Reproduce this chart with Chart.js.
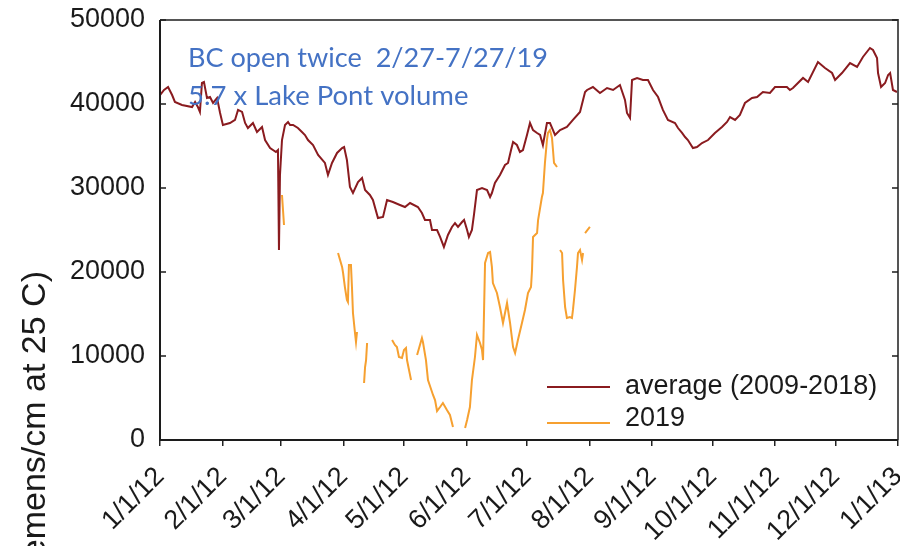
<!DOCTYPE html>
<html>
<head>
<meta charset="utf-8">
<script src="https://cdn.jsdelivr.net/npm/chart.js@4.4.1/dist/chart.umd.min.js"></script>
<style>
  html, body { margin: 0; padding: 0; background: #ffffff; }
  canvas { display: block; }
</style>
</head>
<body>
<canvas id="chart" width="900" height="546"></canvas>
<script>
// Day of year on a 2012 calendar (0 = Jan 1) and conductivity, 2009-2018 average
const avgDay = [0,2,4,6,7.4,10.9,15.9,17.4,18.8,19.8,20.8,21.8,23.3,24.8,26.3,28.3,29.8,31.2,34.7,37.2,38.7,40.7,42.2,43.6,46.1,48.1,50.6,52.1,54.6,57.5,58.5,59.0,59.5,60.5,62.0,63.5,64.5,66.0,68.4,70.4,71.9,73.4,75.9,78.4,81.8,83.3,85.3,87.8,90.3,91.3,92.7,94.2,95.7,98.2,100.2,101.7,104.1,105.6,108.1,110.6,112.6,115.5,119.0,121.5,124.0,127.9,129.9,131.4,133.9,134.9,137.4,138.9,140.8,142.8,144.8,146.3,147.8,149.8,150.8,152.3,153.2,154.7,155.7,157.2,159.7,162.2,163.7,164.6,166.1,168.6,171.1,172.6,174.1,175.1,177.0,178.5,180.0,182.0,183.5,185.0,187.0,188.5,189.9,191.9,193.4,194.9,195.9,198.4,201.8,204.8,208.3,209.8,210.8,211.8,214.7,218.2,221.7,224.7,228.1,230.6,231.6,233.1,234.1,236.6,239.5,242.0,244.5,247.0,249.4,251.9,255.4,256.9,258.9,260.4,261.8,264.3,266.3,268.8,271.8,275.2,278.7,281.2,282.7,285.2,287.6,290.1,293.6,296.1,299.0,302.5,305.0,310.9,312.4,313.9,318.9,321.4,326.3,329.8,333.3,334.8,338.2,342.2,345.7,348.6,352.1,353.6,355.6,356.1,357.6,359.6,361.1,362.1,363.5,365.5];
const avgVal = [41070,41670,42020,41070,40240,39880,39640,40240,39640,39050,42500,42620,40710,40830,40120,40710,38930,37500,37740,38100,39290,39050,37740,37140,37740,36670,37260,35710,34760,34290,34520,22620,31550,35710,37500,37860,37500,37500,37140,36670,36310,35710,35120,33930,32980,31550,32980,34170,34760,34880,33330,30120,29400,30710,31190,29760,29170,28570,26430,26550,28570,28330,27980,27740,28210,27740,27020,26190,26190,25000,25000,24170,22980,24410,25360,25830,25360,25950,26190,25000,24170,25000,26790,29760,30000,29760,28930,29400,30600,31550,32740,32980,34520,35480,35120,34290,34520,36310,37740,36900,36550,36310,35120,37740,37740,36900,36310,36900,37260,38100,39050,40480,41430,41670,42020,41310,41900,41670,42260,40480,38930,38330,42860,43100,42860,42860,41670,40830,39290,38100,37740,37140,36550,36070,35710,34760,34880,35360,35710,36550,37260,37860,38450,38100,38690,40120,40710,40830,41430,41310,42020,42020,41670,41900,43100,42620,45000,44290,43690,42860,43690,44880,44410,45600,46670,46430,45480,43690,42020,42500,43450,43690,41670,41430];

// 2019 record on the same day-of-year axis; null marks gaps in the logger record
const y2019Day = [60.5,61.0,61.5,62,88.3,89.3,90.3,90.8,91.7,92.7,93.2,93.7,94.7,95.2,95.7,96.7,97.2,97.7,99,101.2,101.7,102.2,102.7,105,115.1,116.5,117.5,118.5,120.0,121.0,122.0,122.5,123.5,124.5,126,127.5,129.9,130.4,131.9,132.9,133.9,135.4,136.4,137.4,138.9,140.3,142.3,143.8,145.3,148,151.3,152.3,153.7,154.7,156.2,157.2,158.7,159.7,160.2,161.2,162.7,163.7,164.6,165.1,167.1,168.6,170.1,172.1,173.6,175.1,176.1,177.5,179.5,181.0,182.5,184.0,184.5,185.0,187.0,187.5,189.4,189.9,190.9,191.9,192.4,193.4,194.4,194.9,195.4,196.9,197.5,198.4,199.4,199.9,200.9,201.8,203.3,204.3,204.8,205.8,206.8,207.3,208.3,209.3,209.8,210.3,210.8,213.2];
const y2019Val = [29170,27380,25600,null,22260,21430,20600,19880,18210,16670,16430,20830,20830,18210,15120,12740,11670,12860,null,6790,8690,9520,11550,null,11900,11310,11070,9880,9760,10710,10950,9520,8330,7140,null,10120,12140,11670,9520,7140,6430,5360,4760,3450,3930,4400,3570,2980,1550,null,1430,2380,3930,7140,9880,12500,11550,10710,9520,21070,22260,22380,20600,18690,17500,15830,13930,16310,13930,11070,10360,11900,13930,15480,17500,18210,20240,24170,24640,26190,28930,29400,32980,35710,36550,36900,35950,34520,32980,32500,null,22620,22260,19050,15830,14520,14640,14520,15480,17860,20600,22260,22620,21430,22260,null,24640,25360];

// Axis ticks
const monthStartDays = [0,31,60,91,121,152,182,213,244,274,305,335,366];
const monthLabels = ['1/1/12','2/1/12','3/1/12','4/1/12','5/1/12','6/1/12','7/1/12','8/1/12','9/1/12','10/1/12','11/1/12','12/1/12','1/1/13'];
const yTickValues = [0,10000,20000,30000,40000,50000];

// Text
const seriesNames = ['average (2009-2018)', '2019'];
const noteLines = ['BC open twice  2/27-7/27/19', '5.7 x Lake Pont volume'];
const yTitle = 'Conductivity (microSiemens/cm at 25 C)';

const FONT = "'Liberation Sans', Arial, sans-serif";
const AVG_COLOR = '#8a1b1f';
const Y2019_COLOR = '#f6a030';

function toPoints(days, vals) {
  return days.map((d, i) => ({ x: d, y: vals[i] }));
}

// Frame, inward ticks, note, legend and rotated axis title
const decorations = {
  id: 'decorations',
  afterDraw(chart) {
    const { ctx, chartArea: a, scales: { y } } = chart;
    ctx.save();

    // top and right border
    ctx.strokeStyle = '#555555';
    ctx.lineWidth = 2;
    ctx.beginPath();
    ctx.moveTo(a.left, a.top);
    ctx.lineTo(a.right, a.top);
    ctx.lineTo(a.right, a.bottom);
    ctx.stroke();

    // left and bottom axis lines
    ctx.strokeStyle = '#1c1c1c';
    ctx.beginPath();
    ctx.moveTo(a.left, a.top);
    ctx.lineTo(a.left, a.bottom);
    ctx.lineTo(a.right, a.bottom);
    ctx.stroke();

    // inward y ticks on both sides
    ctx.lineWidth = 1.5;
    y.ticks.forEach(t => {
      const py = y.getPixelForValue(t.value);
      ctx.beginPath();
      ctx.moveTo(a.left, py); ctx.lineTo(a.left + 6, py);
      ctx.moveTo(a.right, py); ctx.lineTo(a.right - 6, py);
      ctx.stroke();
    });

    // note in the upper left
    ctx.fillStyle = '#4472c4';
    ctx.font = "27.5px Lato, 'Open Sans', sans-serif";
    ctx.textAlign = 'left';
    ctx.textBaseline = 'alphabetic';
    ctx.fillText(noteLines[0], a.left + 28, a.top + 47, 360);
    ctx.fillText(noteLines[1], a.left + 28, a.top + 85, 288);

    // legend in the lower right
    const ds = chart.data.datasets;
    const rows = [a.bottom - 53, a.bottom - 17];
    const textRows = [a.bottom - 53, a.bottom - 21];
    ctx.font = '27px ' + FONT;
    ctx.textBaseline = 'middle';
    ds.forEach((d, i) => {
      ctx.strokeStyle = d.borderColor;
      ctx.lineWidth = 2;
      ctx.beginPath();
      ctx.moveTo(a.right - 351, rows[i]);
      ctx.lineTo(a.right - 288, rows[i]);
      ctx.stroke();
      ctx.fillStyle = '#1a1a1a';
      ctx.fillText(d.label, a.right - 273, textRows[i]);
    });

    // rotated y-axis title
    ctx.translate(45, 271);
    ctx.rotate(-Math.PI / 2);
    ctx.textAlign = 'right';
    ctx.textBaseline = 'alphabetic';
    ctx.font = '34px ' + FONT;
    ctx.fillStyle = '#1a1a1a';
    ctx.fillText(yTitle, 0, 0);

    ctx.restore();
  }
};

new Chart(document.getElementById('chart'), {
  type: 'line',
  data: {
    datasets: [
      {
        label: seriesNames[0],
        data: toPoints(avgDay, avgVal),
        borderColor: AVG_COLOR,
        borderWidth: 2,
        pointRadius: 0,
        tension: 0,
        spanGaps: false
      },
      {
        label: seriesNames[1],
        data: toPoints(y2019Day, y2019Val),
        borderColor: Y2019_COLOR,
        borderWidth: 2,
        pointRadius: 0,
        tension: 0,
        spanGaps: false
      }
    ]
  },
  options: {
    responsive: false,
    animation: false,
    layout: { padding: { left: 0, right: 2, top: 20, bottom: 0 } },
    plugins: {
      legend: { display: false },
      tooltip: { enabled: false }
    },
    scales: {
      x: {
        type: 'linear',
        min: 0,
        max: 366,
        afterBuildTicks: s => { s.ticks = monthStartDays.map(v => ({ value: v })); },
        afterFit: s => { s.height = 106; s.paddingLeft = 0; s.paddingRight = 0; },
        grid: { display: true, drawOnChartArea: false, drawTicks: true, tickLength: 6, color: '#222222', lineWidth: 1.5 },
        border: { display: false },
        ticks: {
          autoSkip: false,
          minRotation: 45,
          maxRotation: 45,
          padding: 15,
          color: '#1a1a1a',
          font: { family: FONT, size: 27 },
          callback: (v, i) => monthLabels[i]
        }
      },
      y: {
        min: 0,
        max: 50000,
        afterBuildTicks: s => { s.ticks = yTickValues.map(v => ({ value: v })); },
        afterFit: s => { s.width = 160; s.paddingTop = 0; s.paddingBottom = 0; },
        grid: { display: false, drawTicks: false },
        border: { display: false },
        ticks: {
          padding: 15,
          color: '#1a1a1a',
          font: { family: FONT, size: 27 },
          callback: v => String(v)
        }
      }
    }
  },
  plugins: [decorations]
});
</script>
</body>
</html>
